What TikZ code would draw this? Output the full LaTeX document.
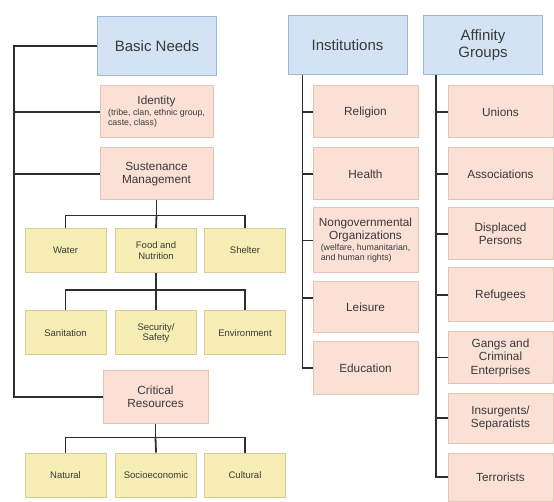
\documentclass[tikz,border=0pt]{standalone}
\usepackage{fontspec}
\setmainfont{Liberation Sans}
\definecolor{bluefill}{HTML}{D3E3F5}
\definecolor{blueline}{HTML}{9FB7D6}
\definecolor{pinkfill}{HTML}{FBE0D5}
\definecolor{pinkline}{HTML}{E5C4B6}
\definecolor{yelfill}{HTML}{F5EDB3}
\definecolor{yelline}{HTML}{D6CB92}
\definecolor{txtgray}{HTML}{3A3A3A}
\definecolor{linegray}{HTML}{2E2E2E}
\begin{document}
\begin{tikzpicture}[x=1pt,y=-1pt,
  every node/.style={inner sep=1pt,text=txtgray,align=center},
  headbox/.style={draw=blueline,fill=bluefill,line width=1pt,minimum width=119pt,minimum height=59pt,font=\fontsize{15}{17}\selectfont},
  itembox/.style={draw=pinkline,fill=pinkfill,line width=1pt,minimum width=105pt,minimum height=52pt,font=\fontsize{11.8}{13.5}\selectfont},
  subbox/.style={draw=yelline,fill=yelfill,line width=1pt,minimum width=81pt,minimum height=44pt,font=\fontsize{9.5}{10.5}\selectfont},
  link/.style={draw=linegray,line width=1.8pt},
  trunk/.style={draw=linegray,line width=2.4pt}]
\useasboundingbox (0,0) rectangle (554,502);
\newcommand{\smalltxt}[1]{{\fontsize{8.8}{9.6}\selectfont\begin{tabular}{@{}l@{}}#1\end{tabular}}}
% column headers
\node[headbox] (bn) at (157,46) {Basic Needs};
\node[headbox] (inst) at (347.5,45) {Institutions};
\node[headbox] (aff) at (483,45) {Affinity\\Groups};
% basic needs
\node[itembox,minimum width=113pt] (ident) at (156.5,112) {Identity\\[1pt]\smalltxt{(tribe, clan, ethnic group,\\caste, class)}};
\node[itembox,minimum width=113pt] (sust) at (156.5,174) {Sustenance\\Management};
\node[subbox] (water) at (65.5,250.5) {Water};
\node[subbox] (food) at (156,250.5) {Food and\\Nutrition};
\node[subbox] (shelter) at (245,250.5) {Shelter};
\node[subbox] (sanit) at (65.5,333) {Sanitation};
\node[subbox] (secur) at (156,333) {Security/\\Safety};
\node[subbox] (envir) at (245,333) {Environment};
\node[itembox] (crit) at (155.5,397) {Critical\\Resources};
\node[subbox] (natur) at (65.5,475) {Natural};
\node[subbox] (socio) at (156,475) {Socioeconomic};
\node[subbox] (cult) at (245,475) {Cultural};
% institutions
\node[itembox] (relig) at (365.5,112) {Religion};
\node[itembox] (health) at (365.5,174) {Health};
\node[itembox,minimum height=65pt] (ngo) at (365.5,240.5) {Nongovernmental\\Organizations\\[1pt]\smalltxt{(welfare, humanitarian,\\and human rights)}};
\node[itembox,minimum height=51pt] (leis) at (365.5,307.5) {Leisure};
\node[itembox] (educ) at (365.5,368) {Education};
% affinity groups
\node[itembox] (union) at (500.5,112) {Unions};
\node[itembox] (assoc) at (500.5,174) {Associations};
\node[itembox] (displ) at (500.5,234) {Displaced\\Persons};
\node[itembox,minimum height=54pt] (refug) at (500.5,295) {Refugees};
\node[itembox] (gang) at (500.5,357.5) {Gangs and\\Criminal\\Enterprises};
\node[itembox,minimum height=50pt] (insur) at (500.5,418) {Insurgents/\\Separatists};
\node[itembox,minimum height=48pt] (terr) at (500.5,477) {Terrorists};
% connectors, left
\coordinate (ltop) at (14,46);
\draw[trunk] (bn.west) -- (ltop) |- (crit.west);
\draw[trunk] (ident.west) -- (ident.west -| ltop);
\draw[trunk] (sust.west) -- (sust.west -| ltop);
\draw[link] (sust.south) -- ++(0,15) coordinate (sj);
\draw[link] (water.north) |- (sj) -| (shelter.north);
\draw[link] (sj) -- (food.north);
\draw[link] (food.south) -- ++(0,17) coordinate (fj);
\draw[link] (sanit.north) |- (fj) -| (envir.north);
\draw[link] (fj) -- (secur.north);
\draw[link] (crit.south) -- ++(0,14) coordinate (cj);
\draw[link] (natur.north) |- (cj) -| (cult.north);
\draw[link] (cj) -- (socio.north);
% connectors, institutions
\coordinate (itop) at ([xshift=15pt]inst.south west);
\draw[link] (itop) |- (educ.west);
\foreach \b in {relig,health,ngo,educ}
  \draw[link] (\b.west) -- (\b.west -| itop);
\draw[link] ([yshift=9.5pt]leis.west) -- ([yshift=9.5pt]leis.west -| itop);
% connectors, affinity groups
\coordinate (atop) at ([xshift=13pt]aff.south west);
\draw[link] (atop) |- (terr.west);
\foreach \b in {union,assoc,displ,refug,gang,insur}
  \draw[link] (\b.west) -- (\b.west -| atop);
\end{tikzpicture}
\end{document}
